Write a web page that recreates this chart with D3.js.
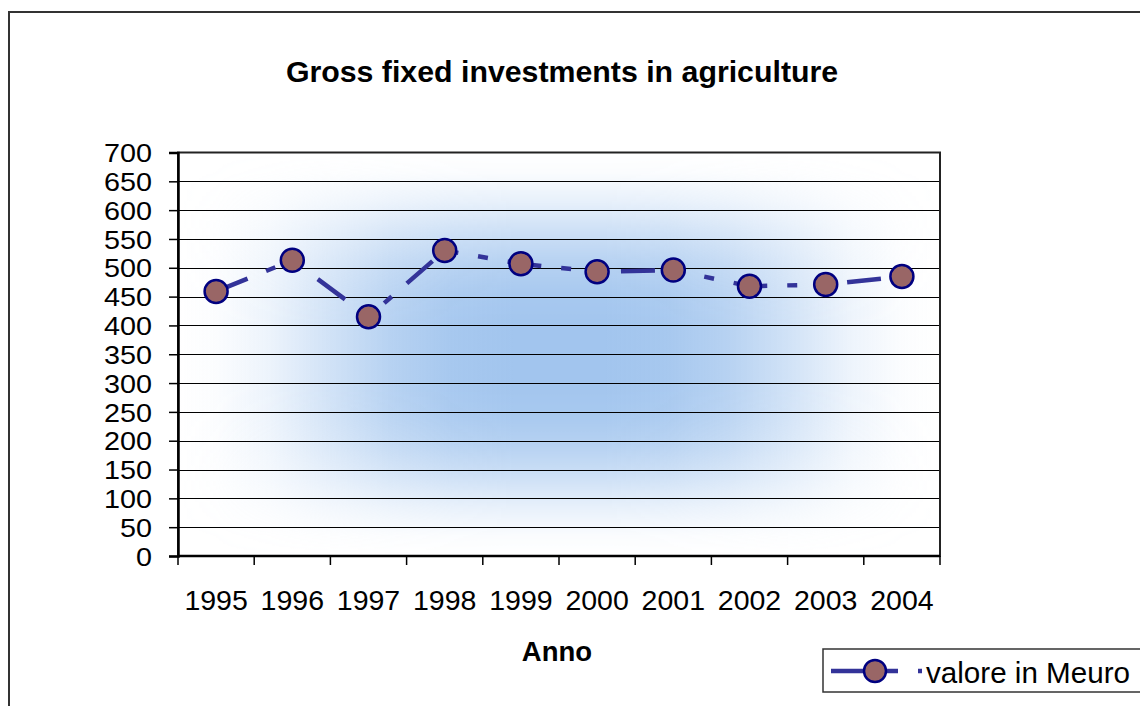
<!DOCTYPE html>
<html>
<head>
<meta charset="utf-8">
<script src="https://cdn.jsdelivr.net/npm/d3@7"></script>
<style>
  html, body { margin: 0; padding: 0; background: #fff; }
  svg { display: block; font-family: "Liberation Sans", Arial, sans-serif; }
</style>
</head>
<body>
<svg id="chart" width="1140" height="706"></svg>
<script>
const years = ["1995","1996","1997","1998","1999","2000","2001","2002","2003","2004"];
const values = [459, 513, 415, 530, 507, 493, 496, 468, 471, 485];
const yTicks = [0,50,100,150,200,250,300,350,400,450,500,550,600,650,700];
const title = "Gross fixed investments in agriculture";
const xTitle = "Anno";
const seriesName = "valore in Meuro";

const svg = d3.select("#chart");
const plot = {left: 178, top: 152.5, right: 940, bottom: 556};

const x = d3.scaleBand().domain(years).range([plot.left, plot.right]);
const y = d3.scaleLinear().domain([0, 700]).range([plot.bottom, plot.top]);

const defs = svg.append("defs");
const blue = "#a2c5ee";
const hg = defs.append("linearGradient").attr("id", "hg").attr("x1", 0).attr("x2", 1).attr("y1", 0).attr("y2", 0);
[[0,0],[0.05,0.04],[0.12,0.2],[0.2,0.5],[0.28,0.78],[0.36,0.95],[0.44,1],[0.56,1],[0.64,0.95],[0.72,0.78],[0.8,0.5],[0.88,0.2],[0.95,0.04],[1,0]]
  .forEach(([o,a]) => hg.append("stop").attr("offset", o).attr("stop-color", blue).attr("stop-opacity", a));
const vg = defs.append("linearGradient").attr("id", "vg").attr("x1", 0).attr("x2", 0).attr("y1", 0).attr("y2", 1);
[[0,0],[0.05,0.05],[0.12,0.25],[0.2,0.55],[0.28,0.8],[0.36,0.95],[0.44,1],[0.56,1],[0.64,0.95],[0.72,0.8],[0.8,0.55],[0.88,0.25],[0.95,0.05],[1,0]]
  .forEach(([o,a]) => vg.append("stop").attr("offset", o).attr("stop-color", "#fff").attr("stop-opacity", a));
const mask = defs.append("mask").attr("id", "vm").attr("maskContentUnits", "userSpaceOnUse");
mask.append("rect").attr("x", plot.left).attr("y", plot.top)
  .attr("width", plot.right - plot.left).attr("height", plot.bottom - plot.top).attr("fill", "url(#vg)");

// outer chart border
svg.append("rect").attr("x", 9).attr("y", 12).attr("width", 1200).attr("height", 800)
  .attr("fill", "#fff").attr("stroke", "#333").attr("stroke-width", 2);

// plot background
svg.append("rect").attr("x", plot.left).attr("y", plot.top)
  .attr("width", plot.right - plot.left).attr("height", plot.bottom - plot.top).attr("fill", "#fff");
svg.append("rect").attr("x", plot.left).attr("y", plot.top)
  .attr("width", plot.right - plot.left).attr("height", plot.bottom - plot.top)
  .attr("fill", "url(#hg)").attr("mask", "url(#vm)");

// gridlines
svg.append("g").selectAll("line").data(yTicks.filter(d => d > 0 && d < 700)).join("line")
  .attr("x1", plot.left).attr("x2", plot.right)
  .attr("y1", d => Math.round(y(d)) + 0.5).attr("y2", d => Math.round(y(d)) + 0.5)
  .attr("stroke", "#000").attr("stroke-width", 1.2);

// plot border
svg.append("rect").attr("x", plot.left).attr("y", plot.top)
  .attr("width", plot.right - plot.left).attr("height", plot.bottom - plot.top)
  .attr("fill", "none").attr("stroke", "#222").attr("stroke-width", 2);

// y axis
const yAxis = svg.append("g").attr("transform", `translate(${plot.left},0)`)
  .call(d3.axisLeft(y).tickValues(yTicks).tickSize(9).tickPadding(17).tickFormat(d3.format("d")));
yAxis.select(".domain").attr("stroke", "#000").attr("stroke-width", 2.5);
yAxis.selectAll(".tick line").attr("stroke", "#000").attr("stroke-width", 1.5);
yAxis.selectAll(".tick text").attr("font-size", 25.5).attr("fill", "#000")
  .attr("font-family", "Liberation Sans, Arial, sans-serif").attr("dy", "0.36em")
  .attr("textLength", d => String(d).length * 16).attr("lengthAdjust", "spacingAndGlyphs");

// x axis (ticks on band boundaries)
const xAxis = svg.append("g").attr("transform", `translate(0,${plot.bottom})`);
xAxis.append("line").attr("x1", plot.left).attr("x2", plot.right).attr("y1", 0).attr("y2", 0)
  .attr("stroke", "#000").attr("stroke-width", 2.5);
const bounds = years.map(d => x(d)).concat([x(years[years.length-1]) + x.bandwidth()]);
xAxis.selectAll("line.tk").data(bounds).join("line").attr("class", "tk")
  .attr("x1", d => d).attr("x2", d => d).attr("y1", 0).attr("y2", 9)
  .attr("stroke", "#000").attr("stroke-width", 1.5);
xAxis.selectAll("text").data(years).join("text")
  .attr("x", d => x(d) + x.bandwidth() / 2).attr("y", 54)
  .attr("text-anchor", "middle").attr("font-size", 28.5).attr("fill", "#000").text(d => d);

// title and axis title
svg.append("text").attr("x", 562).attr("y", 82).attr("text-anchor", "middle")
  .attr("font-size", 30.3).attr("font-weight", "bold").attr("fill", "#000").text(title);
svg.append("text").attr("x", 557).attr("y", 661).attr("text-anchor", "middle")
  .attr("font-size", 27.5).attr("font-weight", "bold").attr("fill", "#000").text(xTitle);

// series line
const cx = d => x(d) + x.bandwidth() / 2;
const data = years.map((yr, i) => ({yr, v: values[i]}));
const line = d3.line().x(d => cx(d.yr)).y(d => y(d.v));
svg.append("path").datum(data).attr("d", line)
  .attr("fill", "none").attr("stroke", "#333399").attr("stroke-width", 4.5)
  .attr("stroke-dasharray", "34,20,10,20,10,20");
svg.append("g").selectAll("circle").data(data).join("circle")
  .attr("cx", d => cx(d.yr)).attr("cy", d => y(d.v)).attr("r", 11.5)
  .attr("fill", "#996666").attr("stroke", "#000080").attr("stroke-width", 2.5);

// legend
const lg = svg.append("g");
lg.append("rect").attr("x", 823).attr("y", 649).attr("width", 400).attr("height", 43)
  .attr("fill", "#fff").attr("stroke", "#333").attr("stroke-width", 1.5);
lg.append("line").attr("x1", 831).attr("x2", 898).attr("y1", 671).attr("y2", 671)
  .attr("stroke", "#333399").attr("stroke-width", 4.5);
lg.append("line").attr("x1", 918).attr("x2", 922).attr("y1", 671).attr("y2", 671)
  .attr("stroke", "#333399").attr("stroke-width", 4.5);
lg.append("circle").attr("cx", 875).attr("cy", 671).attr("r", 11)
  .attr("fill", "#996666").attr("stroke", "#000080").attr("stroke-width", 2.5);
lg.append("text").attr("x", 926).attr("y", 683).attr("font-size", 29.6).attr("fill", "#000").text(seriesName);
</script>
</body>
</html>
